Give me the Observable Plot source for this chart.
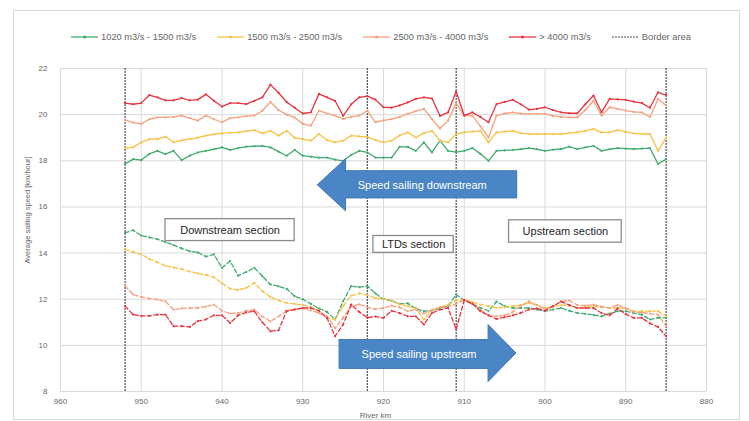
<!DOCTYPE html>
<html>
<head>
<meta charset="utf-8">
<script src="https://cdn.jsdelivr.net/npm/d3@7"></script>
<script src="https://cdn.jsdelivr.net/npm/@observablehq/plot@0.6"></script>
<style>
  body { margin: 0; background: #fff; font-family: "Liberation Sans", Arial, sans-serif; }
  #wrap { position: relative; width: 749px; height: 421px; overflow: hidden; background: #fff; }
  #frame { position: absolute; left: 13px; top: 10px; width: 727px; height: 410px; border: 1px solid #d9d9d9; box-sizing: border-box; }
  #chart { position: absolute; left: 0; top: 0; }
  #legend { position: absolute; top: 32px; left: 13px; width: 736px; display: flex; justify-content: center; gap: 21px; font-size: 9.3px; color: #666; line-height: 10px; }
  .item { display: flex; align-items: center; white-space: nowrap; }
  .item svg { margin-right: 3px; }
</style>
</head>
<body>
<div id="wrap">
  <div id="frame"></div>
  <div id="chart"></div>
  <div id="legend"></div>
</div>
<script>
// River km positions (x categories)
const km = [952, 951, 950, 949, 948, 947, 946, 945, 944, 943,
  942, 941, 940, 939, 938, 937, 936, 935, 934, 933,
  932, 931, 930, 929, 928, 927, 926, 925, 924, 923,
  922, 921, 920, 919, 918, 917, 916, 915, 914, 913,
  912, 911, 910, 909, 908, 907, 906, 905, 904, 903,
  902, 901, 900, 899, 898, 897, 896, 895, 894, 893,
  892, 891, 890, 889, 888, 887, 886, 885];

// Sailing downstream (solid lines)
const greenDown = [17.86, 18.07, 18.03, 18.3, 18.43, 18.29, 18.43, 18.03, 18.22, 18.36,
  18.43, 18.5, 18.58, 18.47, 18.55, 18.61, 18.63, 18.65, 18.58, 18.4,
  18.22, 18.47, 18.22, 18.18, 18.14, 18.14, 18.05, 18.0, 18.25, 18.43,
  18.36, 18.14, 18.14, 18.14, 18.6, 18.6, 18.43, 18.8, 18.36, 18.87,
  18.43, 18.38, 18.43, 18.55, 18.3, 18.0, 18.43, 18.45, 18.47, 18.5,
  18.55, 18.5, 18.43, 18.48, 18.51, 18.61, 18.51, 18.58, 18.65, 18.43,
  18.5, 18.55, 18.53, 18.51, 18.53, 18.55, 17.86, 18.07];
const yellowDown = [18.55, 18.58, 18.8, 18.94, 18.94, 19.05, 18.8, 18.88, 18.94, 19.0,
  19.09, 19.15, 19.19, 19.22, 19.23, 19.28, 19.33, 19.19, 19.3, 19.09,
  19.3, 19.0, 18.94, 18.87, 19.16, 18.9, 18.8, 18.87, 19.09, 19.06,
  19.04, 18.9, 18.8, 18.87, 19.1, 19.23, 19.01, 19.2, 19.3, 18.87,
  18.8, 19.16, 19.23, 19.26, 19.3, 18.8, 19.23, 19.26, 19.3, 19.2,
  19.16, 19.16, 19.16, 19.16, 19.16, 19.2, 19.23, 19.3, 19.38, 19.23,
  19.23, 19.33, 19.25, 19.19, 19.16, 19.16, 18.43, 19.0];
const salmonDown = [19.77, 19.65, 19.6, 19.8, 19.88, 19.88, 19.9, 19.96, 19.85, 19.74,
  19.96, 19.8, 19.67, 19.85, 19.88, 19.94, 19.96, 20.17, 20.55, 20.2,
  20.0, 19.88, 19.6, 19.52, 20.17, 20.05, 19.96, 19.82, 19.9, 19.96,
  20.17, 19.67, 19.75, 19.81, 19.9, 20.03, 20.15, 20.25, 19.81, 19.4,
  19.74, 20.5, 19.96, 19.96, 19.5, 19.01, 19.96, 20.05, 20.1, 20.05,
  20.03, 20.03, 20.03, 19.95, 19.9, 19.88, 19.88, 20.2, 20.6, 19.96,
  20.32, 20.25, 20.17, 20.12, 20.1, 19.9, 20.68, 20.4];
const redDown = [20.5, 20.45, 20.5, 20.85, 20.75, 20.62, 20.62, 20.72, 20.62, 20.65,
  20.88, 20.6, 20.35, 20.5, 20.5, 20.46, 20.6, 20.75, 21.3, 20.95,
  20.55, 20.3, 20.05, 20.1, 20.9, 20.75, 20.6, 19.95, 20.45, 20.75,
  20.8, 20.65, 20.32, 20.3, 20.4, 20.53, 20.68, 20.75, 20.7, 19.95,
  20.1, 21.0, 19.96, 20.1, 19.9, 19.67, 20.46, 20.55, 20.64, 20.45,
  20.22, 20.25, 20.32, 20.2, 20.1, 20.06, 20.06, 20.45, 20.83, 20.1,
  20.68, 20.66, 20.64, 20.56, 20.5, 20.3, 20.97, 20.85];

// Sailing upstream (dashed lines)
const greenUp = [14.88, 14.99, 14.76, 14.68, 14.6, 14.47, 14.35, 14.2, 14.08, 14.03,
  13.85, 13.94, 13.36, 13.65, 13.02, 13.18, 13.36, 13.0, 12.64, 12.56,
  12.45, 12.13, 12.0, 11.8, 11.6, 11.45, 11.12, 11.91, 12.57, 12.52,
  12.57, 12.25, 12.0, 11.93, 11.8, 11.82, 11.6, 11.48, 11.52, 11.6,
  11.7, 12.2, 11.95, 11.8, 11.62, 11.5, 11.9, 11.7, 11.62, 11.62,
  11.62, 11.55, 11.48, 11.55, 11.62, 11.5, 11.41, 11.37, 11.32, 11.26,
  11.38, 11.48, 11.48, 11.4, 11.33, 11.12, 11.2, 11.19];
const yellowUp = [14.16, 14.05, 13.94, 13.75, 13.6, 13.45, 13.38, 13.3, 13.2, 13.12,
  13.05, 12.95, 12.7, 12.45, 12.4, 12.49, 12.71, 12.35, 12.1, 11.95,
  11.84, 11.8, 11.75, 11.66, 11.5, 11.19, 11.12, 11.7, 12.15, 12.25,
  12.18, 12.05, 12.02, 11.95, 11.78, 11.7, 11.6, 11.12, 11.55, 11.65,
  11.77, 11.95, 11.96, 11.88, 11.77, 11.7, 11.62, 11.65, 11.7, 11.75,
  11.84, 11.75, 11.62, 11.68, 11.75, 11.72, 11.62, 11.66, 11.7, 11.66,
  11.62, 11.62, 11.6, 11.48, 11.48, 11.48, 11.48, 11.26];
const salmonUp = [12.57, 12.2, 12.1, 12.03, 11.98, 11.91, 11.55, 11.6, 11.62, 11.62,
  11.68, 11.77, 11.5, 11.38, 11.4, 11.5, 11.55, 11.25, 11.04, 11.25,
  11.5, 11.58, 11.6, 11.52, 11.4, 11.26, 10.75, 11.2, 11.7, 11.78,
  11.65, 11.57, 11.62, 11.72, 11.65, 11.48, 11.55, 11.38, 11.5, 11.65,
  11.68, 11.8, 11.99, 11.82, 11.55, 11.3, 11.26, 11.3, 11.45, 11.7,
  11.91, 11.75, 11.55, 11.7, 11.9, 11.95, 11.75, 11.72, 11.77, 11.68,
  11.62, 11.75, 11.6, 11.45, 11.42, 11.38, 11.33, 10.83];
const redUp = [11.7, 11.33, 11.28, 11.28, 11.33, 11.33, 10.83, 10.83, 10.8, 11.05,
  11.12, 11.3, 11.3, 10.97, 11.3, 11.43, 11.48, 11.0, 10.61, 10.65,
  11.48, 11.55, 11.62, 11.62, 11.5, 11.19, 10.4, 10.9, 11.77, 11.45,
  11.2, 11.25, 11.19, 11.5, 11.4, 11.26, 11.26, 10.9, 11.4, 11.55,
  11.62, 10.7, 11.96, 11.8, 11.48, 11.3, 11.14, 11.22, 11.3, 11.41,
  11.55, 11.6, 11.5, 11.7, 11.9, 11.75, 11.62, 11.62, 11.62, 11.4,
  11.3, 11.6, 11.35, 11.19, 11.19, 10.95, 10.8, 10.39];

const seriesNames = ["1020 m3/s - 1500 m3/s", "1500 m3/s - 2500 m3/s", "2500 m3/s - 4000 m3/s", "> 4000 m3/s"];
const seriesColors = ["#3fab6c", "#f7c244", "#f6a07e", "#e8333f"];
const downSeries = [greenDown, yellowDown, salmonDown, redDown];
const upSeries = [greenUp, yellowUp, salmonUp, redUp];

// Border areas (river km)
const borders = [952, 922, 911, 885];
const borderLabel = "Border area";

// Ticks
const xTicks = [960, 950, 940, 930, 920, 910, 900, 890, 880];
const yTicks = [8, 10, 12, 14, 16, 18, 20, 22];

// Annotations (data coordinates)
const sectionBoxes = [
  {label: "Downstream section", x1: 947.0, x2: 931.0, y1: 14.52, y2: 15.47},
  {label: "LTDs section", x1: 921.25, x2: 911.3, y1: 14.01, y2: 14.74},
  {label: "Upstream section", x1: 904.45, x2: 890.5, y1: 14.45, y2: 15.42}
];
const arrowDown = [
  {km: 928.2, v: 16.96}, {km: 924.7, v: 18.09}, {km: 924.7, v: 17.57}, {km: 903.5, v: 17.57},
  {km: 903.5, v: 16.39}, {km: 924.7, v: 16.39}, {km: 924.7, v: 15.83}, {km: 928.2, v: 16.96}
];
const arrowUp = [
  {km: 925.5, v: 10.25}, {km: 907.05, v: 10.25}, {km: 907.05, v: 10.9}, {km: 903.6, v: 9.67},
  {km: 907.05, v: 8.43}, {km: 907.05, v: 9.0}, {km: 925.5, v: 9.0}, {km: 925.5, v: 10.25}
];
const arrowLabels = [
  {label: "Speed sailing downstream", km: 915.2, v: 16.95},
  {label: "Speed sailing upstream", km: 915.6, v: 9.62}
];

// Build tables
const downTables = downSeries.map((vals, i) => km.map((k, j) => ({km: k, v: vals[j], s: seriesNames[i]})));
const upTables = upSeries.map((vals, i) => km.map((k, j) => ({km: k, v: vals[j], s: seriesNames[i]})));

const font = "'Liberation Sans', Arial, sans-serif";
const marks = [
  Plot.gridX(xTicks, {stroke: "#d9d9d9", strokeOpacity: 1, strokeWidth: 1}),
  Plot.gridY(yTicks, {stroke: "#d9d9d9", strokeOpacity: 1, strokeWidth: 1}),
  Plot.axisX(xTicks, {tickSize: 0, tickPadding: 7, label: null, fill: "#666", fontSize: 8}),
  Plot.axisY(yTicks, {tickSize: 0, tickPadding: 13, label: null, fill: "#666", fontSize: 8}),
  Plot.ruleX(borders, {x: d => d, y1: 8, y2: 22, stroke: "#4d4d4d", strokeWidth: 1.2, strokeDasharray: "2,1"})
];
downTables.forEach((t, i) => {
  marks.push(Plot.line(t, {x: "km", y: "v", stroke: seriesColors[i], strokeWidth: 1.3}));
  marks.push(Plot.dot(t, {x: "km", y: "v", r: 1.1, fill: seriesColors[i], stroke: "none"}));
});
upTables.forEach((t, i) => {
  marks.push(Plot.line(t, {x: "km", y: "v", stroke: seriesColors[i], strokeWidth: 1.3, strokeDasharray: "4,2.5"}));
  marks.push(Plot.dot(t, {x: "km", y: "v", r: 1.1, fill: seriesColors[i], stroke: "none"}));
});
marks.push(
  Plot.line(arrowDown, {x: "km", y: "v", fill: "#4a86c6", stroke: "#4177b6", strokeWidth: 1, curve: "linear"}),
  Plot.line(arrowUp, {x: "km", y: "v", fill: "#4a86c6", stroke: "#4177b6", strokeWidth: 1, curve: "linear"}),
  Plot.text(arrowLabels, {x: "km", y: "v", text: "label", fill: "white", fontSize: 11, textAnchor: "middle"}),
  Plot.rect(sectionBoxes, {x1: "x1", x2: "x2", y1: "y1", y2: "y2", fill: "white", stroke: "#8c8c8c", strokeWidth: 1.3}),
  Plot.text(sectionBoxes, {x: d => (d.x1 + d.x2) / 2, y: d => (d.y1 + d.y2) / 2, text: "label", fill: "#262626", fontSize: 11, textAnchor: "middle"}),
  Plot.text(["Average sailing speed [km/hour]"], {frameAnchor: "left", rotate: -90, dx: -33, dy: -20, textAnchor: "middle", lineAnchor: "middle", fontSize: 7.5, fill: "#666"}),
  Plot.text(["River km"], {frameAnchor: "bottom", dx: -8, dy: 24, textAnchor: "middle", lineAnchor: "middle", fontSize: 8, fill: "#666"})
);

const chart = Plot.plot({
  width: 749,
  height: 421,
  marginLeft: 60,
  marginRight: 43,
  marginTop: 68,
  marginBottom: 30,
  style: {fontFamily: font, fontSize: "8px", color: "#666", background: "transparent", overflow: "visible"},
  x: {domain: [960, 880], label: null},
  y: {domain: [8, 22], label: null},
  marks
});
document.getElementById("chart").appendChild(chart);

// Legend
const legend = document.getElementById("legend");
seriesNames.forEach((name, i) => {
  const item = document.createElement("div");
  item.className = "item";
  item.innerHTML = `<svg width="27" height="8"><line x1="0" y1="4" x2="27" y2="4" stroke="${seriesColors[i]}" stroke-width="1.3"/><circle cx="13.5" cy="4" r="1.5" fill="${seriesColors[i]}"/></svg><span>${name}</span>`;
  legend.appendChild(item);
});
const bItem = document.createElement("div");
bItem.className = "item";
bItem.innerHTML = `<svg width="27" height="8"><line x1="0" y1="4" x2="27" y2="4" stroke="#4d4d4d" stroke-width="1.2" stroke-dasharray="2,1"/></svg><span>${borderLabel}</span>`;
legend.appendChild(bItem);
</script>
</body>
</html>
